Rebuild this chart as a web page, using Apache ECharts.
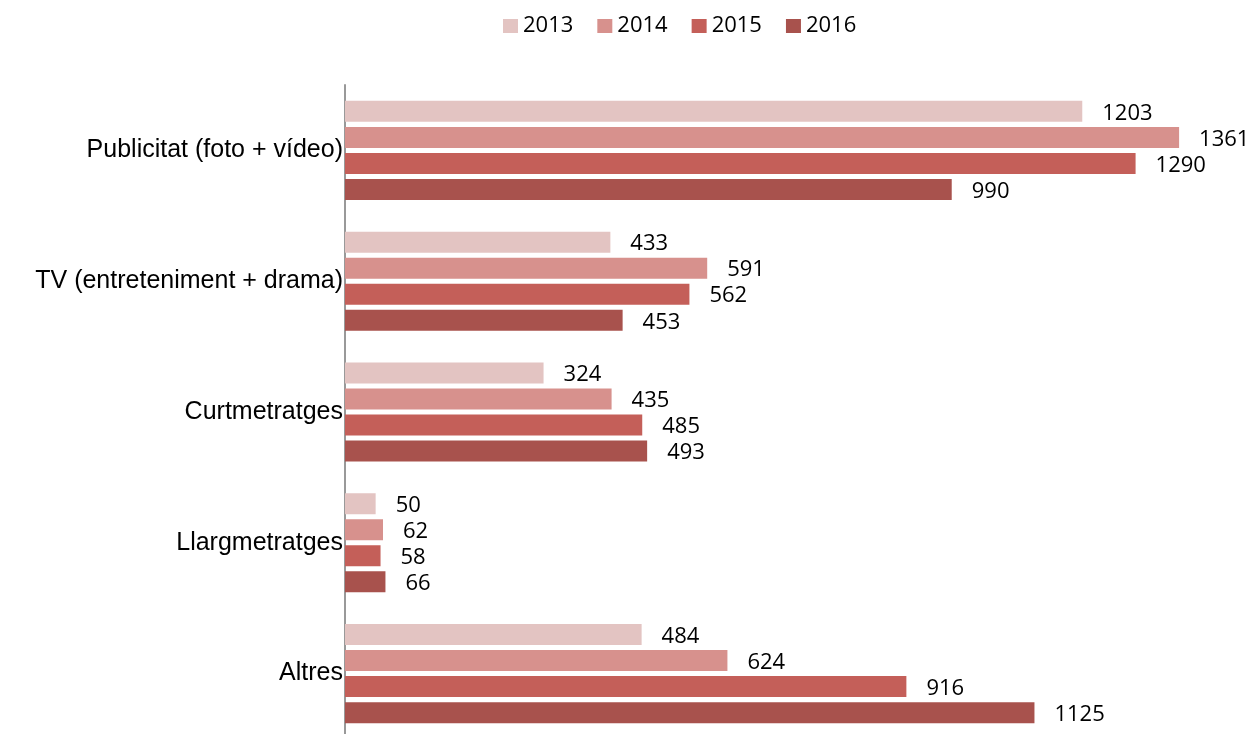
<!DOCTYPE html>
<html>
<head>
<meta charset="utf-8">
<script src="https://cdn.jsdelivr.net/npm/echarts@6/dist/echarts.min.js"></script>
<style>
    html, body { margin: 0; padding: 0; background: #fff; }
    #chart { width: 1255px; height: 734px; }
</style>
</head>
<body>
<div id="chart"></div>
<script>
    // categories, top to bottom
    const categories = ['Publicitat (foto + vídeo)', 'TV (entreteniment + drama)', 'Curtmetratges', 'Llargmetratges', 'Altres'];
    const years = ['2013', '2014', '2015', '2016'];
    const values2013 = [1203, 433, 324, 50, 484];
    const values2014 = [1361, 591, 435, 62, 624];
    const values2015 = [1290, 562, 485, 58, 916];
    const values2016 = [990, 453, 493, 66, 1125];

    const colors = ['#E3C4C2', '#D7918D', '#C45F59', '#A8524D'];
    const allValues = [values2013, values2014, values2015, values2016];

    let myChart = echarts.init(document.getElementById('chart'));

    let option = {
        animation: false,
        color: colors,
        legend: {
            data: years,
            left: 503,
            top: 15,
            padding: 0,
            icon: 'rect',
            itemWidth: 15,
            itemHeight: 14,
            itemGap: 24,
            textStyle: { fontFamily: 'Open Sans', fontSize: 22, color: '#000' }
        },
        grid: {
            left: 345,
            top: 85,
            width: 858,
            height: 654,
            outerBoundsMode: 'none'
        },
        xAxis: {
            type: 'value',
            min: 0,
            max: 1400,
            show: false,
            splitLine: { show: false }
        },
        yAxis: {
            type: 'category',
            inverse: true,
            data: categories,
            axisLine: { lineStyle: { color: '#999', width: 2 } },
            axisTick: { show: false },
            axisLabel: {
                margin: 2,
                color: '#000',
                fontFamily: 'Liberation Sans',
                fontSize: 25
            }
        },
        series: years.map((y, i) => ({
            name: y,
            type: 'bar',
            data: allValues[i],
            barWidth: 21,
            barGap: '24%',
            label: {
                show: true,
                position: 'right',
                distance: 20,
                offset: [0, 2],
                color: '#000',
                fontFamily: 'Open Sans',
                fontSize: 22
            }
        }))
    };

    myChart.setOption(option);
</script>
</body>
</html>
